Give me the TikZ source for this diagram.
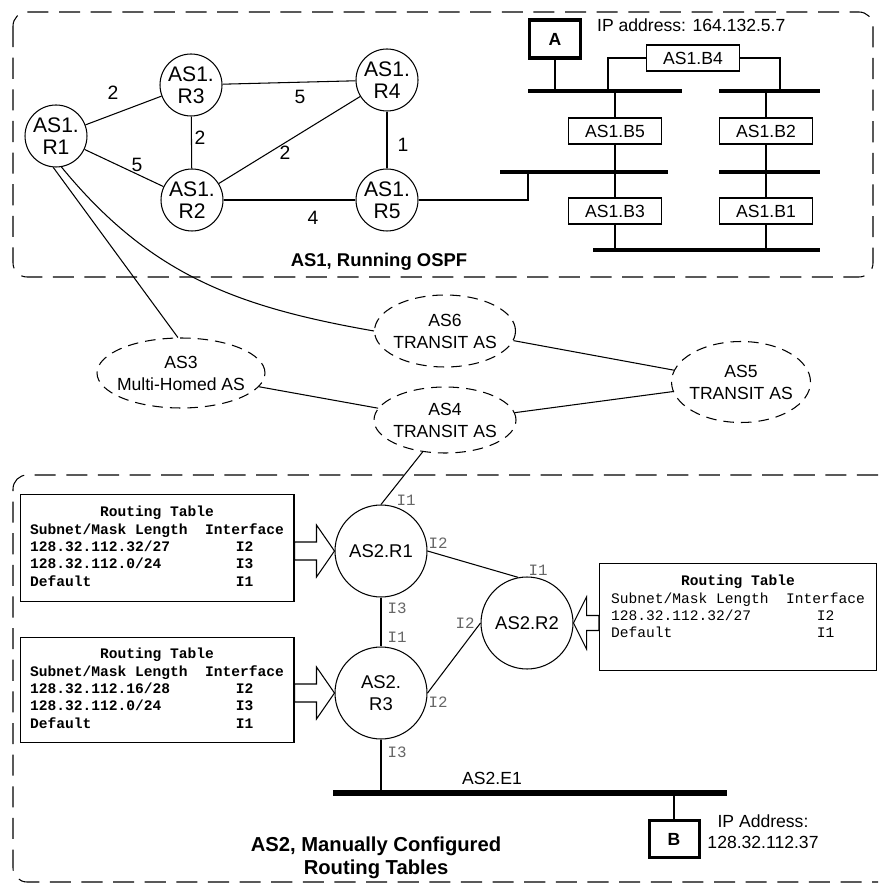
\documentclass[tikz,border=0pt]{standalone}
\usepackage{fontspec}
\setmainfont{Liberation Sans}
\setmonofont{Liberation Mono}
\usetikzlibrary{shapes.geometric, calc, positioning}

\begin{document}
\begin{tikzpicture}[x=0.02cm, y=-0.02cm,
    every node/.style={font=\fontsize{10}{12}\selectfont},
    asbox/.style={draw, line width=0.6pt, dash pattern=on 12pt off 6pt, rounded corners=8pt},
    rtr/.style={circle, draw, line width=0.6pt, minimum size=1.24cm, inner sep=0pt,
                align=center, font=\fontsize{12}{12.5}\selectfont},
    rtrb/.style={rtr, minimum size=1.84cm, font=\fontsize{10.5}{12.3}\selectfont},
    transit/.style={ellipse, draw, line width=0.6pt, dash pattern=on 6pt off 4pt,
                    inner xsep=-4pt, inner ysep=0pt, align=center, font=\fontsize{10}{12.5}\selectfont},
    brg/.style={draw, line width=0.6pt, minimum width=1.86cm, minimum height=0.52cm, inner sep=0pt},
    host/.style={draw, line width=2.2pt, minimum width=1.02cm, minimum height=0.76cm,
                 inner sep=0pt, font=\bfseries\fontsize{10}{12}\selectfont},
    bus/.style={line width=2.3pt},
    lnk/.style={line width=0.6pt},
    wt/.style={font=\fontsize{11}{12}\selectfont},
    ifc/.style={font=\ttfamily\fontsize{9}{10}\selectfont, text=black!60},
    rtab/.style={draw, line width=0.6pt, minimum width=5.48cm, minimum height=2.14cm,
                 inner sep=0pt, font=\ttfamily\fontsize{8.3}{9.9}\selectfont},
    blk/.style={draw, line width=0.6pt, fill=white},
    title/.style={align=center, font=\bfseries\fontsize{10.5}{13}\selectfont}
]
    \useasboundingbox (0,0) rectangle (878,884);

    % AS1 (OSPF)
    \draw[asbox] (13,12) rectangle (873,277);
    \node[rtr] (a1r1) at (56,136)  {AS1.\\R1};
    \node[rtr] (a1r3) at (191,85)  {AS1.\\R3};
    \node[rtr] (a1r4) at (387,80)  {AS1.\\R4};
    \node[rtr] (a1r2) at (192,200) {AS1.\\R2};
    \node[rtr] (a1r5) at (387,200) {AS1.\\R5};
    \draw[lnk] (a1r1) -- (a1r3);
    \draw[lnk] (a1r1) -- (a1r2);
    \draw[lnk] (a1r3) -- (a1r4);
    \draw[lnk] (a1r3) -- (a1r2);
    \draw[lnk] (a1r2) -- (a1r4);
    \draw[lnk] (a1r4) -- (a1r5);
    \draw[lnk] (a1r2) -- (a1r5);
    \node[wt] (w13) at (113,93)  {2};
    \node[wt] (w34) at (300,97)  {5};
    \node[wt] (w32) at (200,138) {2};
    \node[wt] (w24) at (285,153) {2};
    \node[wt] (w45) at (403,145) {1};
    \node[wt] (w12) at (137,165) {5};
    \node[wt] (w25) at (313,218) {4};

    \node[host] (hA) at (555,39) {A};
    \node[anchor=west] (ipA) at (591,25) {IP address: 164.132.5.7};
    \node[brg] (b4) at (693,58)  {AS1.B4};
    \node[brg] (b5) at (615,131) {AS1.B5};
    \node[brg] (b2) at (766,131) {AS1.B2};
    \node[brg] (b3) at (615,211) {AS1.B3};
    \node[brg] (b1) at (766,211) {AS1.B1};
    \coordinate (lan1w) at (528,91);  \coordinate (lan1e) at (682,91);
    \coordinate (lan2w) at (719,91);  \coordinate (lan2e) at (820,91);
    \coordinate (lan3w) at (500,172); \coordinate (lan3e) at (668,172);
    \coordinate (lan4w) at (719,172); \coordinate (lan4e) at (820,172);
    \coordinate (lan5w) at (593,250); \coordinate (lan5e) at (820,250);
    \coordinate (t4w) at (608,91);
    \coordinate (t4e) at (780,91);
    \coordinate (t5) at (528,172);
    \draw[lnk] (hA) -- (hA |- lan1w);
    \draw[lnk] (b4.west) -| (t4w);
    \draw[lnk] (b4.east) -| (t4e);
    \draw[lnk] (b5 |- lan1w) -- (b5.north);
    \draw[lnk] (b5.south) -- (b3.north);
    \draw[lnk] (b3.south) -- (b3 |- lan5w);
    \draw[lnk] (b2 |- lan2w) -- (b2.north);
    \draw[lnk] (b2.south) -- (b1.north);
    \draw[lnk] (b1.south) -- (b1 |- lan5w);
    \draw[lnk] (a1r5.east) -| (t5);
    \draw[bus] (lan1w) -- (lan1e);
    \draw[bus] (lan2w) -- (lan2e);
    \draw[bus] (lan3w) -- (lan3e);
    \draw[bus] (lan4w) -- (lan4e);
    \draw[bus] (lan5w) -- (lan5e);
    \node[title] (as1lbl) at (379,262) {AS1, Running OSPF};

    % transit ASes
    \node[transit, minimum width=3.36cm, minimum height=1.4cm]  (as3) at (181,373) {AS3\\Multi-Homed AS};
    \node[transit, minimum width=2.82cm, minimum height=1.44cm] (as6) at (445,331) {AS6\\TRANSIT AS};
    \node[transit, minimum width=2.84cm, minimum height=1.32cm] (as4) at (445,420) {AS4\\TRANSIT AS};
    \node[transit, minimum width=2.78cm, minimum height=1.62cm] (as5) at (741,382) {AS5\\TRANSIT AS};
    \draw[lnk] (a1r1.-95) -- (as3.95);
    \draw[lnk] (a1r1.-80) .. controls (150,275) and (237,307) .. (as6.west);
    \draw[lnk] (as3.-10) -- (as4.170);
    \draw[lnk] (as6.-8) -- (as5.170);
    \draw[lnk] (as4.6) -- (as5.-172);

    % AS2 (static tables)
    \draw[asbox] (878,475) -- (13,475) -- (13,882) -- (878,882);
    \node[rtrb] (a2r1) at (381,551) {AS2.R1};
    \node[rtrb] (a2r3) at (381,693) {AS2.\\R3};
    \node[rtrb] (a2r2) at (527,623) {AS2.R2};
    \draw[lnk] (as4.235) -- (a2r1.north);
    \draw[lnk] (a2r1.east) -- (a2r2.101);
    \draw[lnk] (a2r3.east) -- (a2r2.west);
    \draw[lnk] (a2r1) -- (a2r3);
    \node[ifc] (i11) at (406,500) {I1};
    \node[ifc] (i12) at (438,543) {I2};
    \node[ifc] (i13) at (397,608) {I3};
    \node[ifc] (i31) at (397,637) {I1};
    \node[ifc] (i32) at (438,702) {I2};
    \node[ifc] (i33) at (397,752) {I3};
    \node[ifc] (i21) at (538,570) {I1};
    \node[ifc] (i22) at (465,623) {I2};

    \node[rtab] (rt1) at (157,548) {\bfseries
        \begin{tabular}{@{}l@{\hspace{1.2em}}c@{}}
        \multicolumn{2}{c}{Routing Table}\\
        Subnet/Mask Length & Interface\\
        128.32.112.32/27 & I2\\
        128.32.112.0/24 & I3\\
        Default & I1
        \end{tabular}};
    \node[rtab, minimum height=2.1cm] (rt2) at (157,690) {\bfseries
        \begin{tabular}{@{}l@{\hspace{1.2em}}c@{}}
        \multicolumn{2}{c}{Routing Table}\\
        Subnet/Mask Length & Interface\\
        128.32.112.16/28 & I2\\
        128.32.112.0/24 & I3\\
        Default & I1
        \end{tabular}};
    \node[rtab, minimum width=5.54cm] (rt3) at (738,617) {%
        \begin{tabular}{@{}l@{\hspace{1.2em}}c@{}}
        \multicolumn{2}{c}{\bfseries Routing Table}\\
        Subnet/Mask Length & Interface\\
        128.32.112.32/27 & I2\\
        Default & I1\\
        &
        \end{tabular}};

    \coordinate (k1) at (rt1.east |- a2r1.west);
    \coordinate (k2) at (rt2.east |- a2r3.west);
    \coordinate (k3) at (rt3.west |- a2r2.east);
    \draw[blk] (a2r1.west) -- ++(-18,-26) -- ++(0,17) -- ($(k1)+(0,-9)$) -- ($(k1)+(0,9)$)
        -- ($(a2r1.west)+(-18,9)$) -- ++(0,17) -- cycle;
    \draw[blk] (a2r3.west) -- ++(-18,-26) -- ++(0,17) -- ($(k2)+(0,-9)$) -- ($(k2)+(0,9)$)
        -- ($(a2r3.west)+(-18,9)$) -- ++(0,17) -- cycle;
    \draw[blk] (a2r2.east) -- ++(13,-26) -- ++(0,18.5) -- ($(k3)+(0,-7.5)$) -- ($(k3)+(0,7.5)$)
        -- ($(a2r2.east)+(13,7.5)$) -- ++(0,18.5) -- cycle;

    \coordinate (e1w) at (333,793);
    \coordinate (e1e) at (727,793);
    \draw[lnk] (a2r3) -- (a2r3 |- e1w);
    \node[host, line width=1.7pt, minimum width=1.0cm, minimum height=0.74cm] (hB) at (674,839) {B};
    \draw[lnk] (hB) -- (hB |- e1w);
    \draw[line width=3.4pt] (e1w) -- (e1e);
    \node (e1lbl) at (492,778) {AS2.E1};
    \node[align=center] (ipB) at (763,832) {IP Address:\\128.32.112.37};
    \node[title, font=\bfseries\fontsize{11.5}{13}\selectfont] (as2lbl) at (376,858)
        {AS2, Manually Configured\\Routing Tables};
\end{tikzpicture}
\end{document}
